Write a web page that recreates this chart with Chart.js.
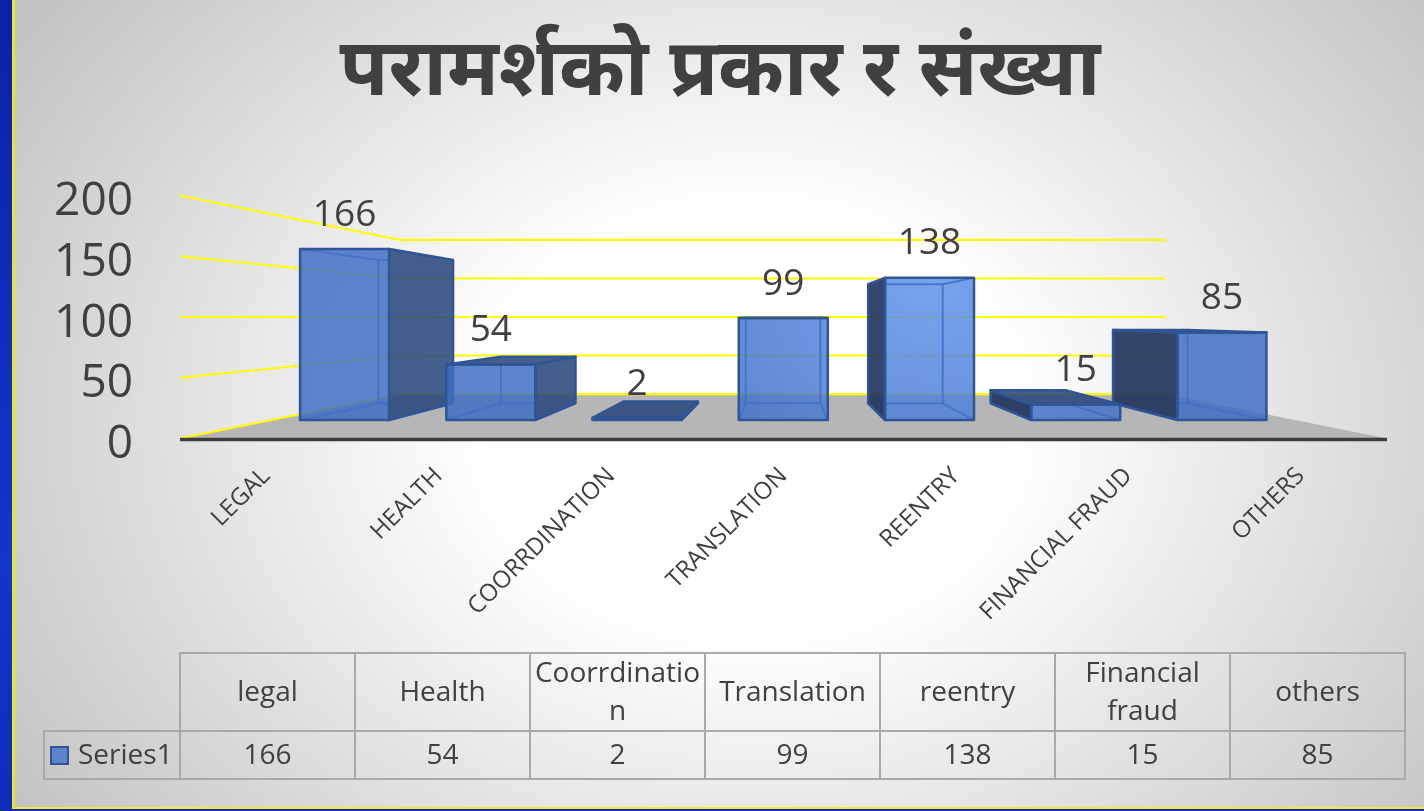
<!DOCTYPE html>
<html><head><meta charset="utf-8">
<style>
html,body{margin:0;padding:0;width:1424px;height:811px;overflow:hidden;background:linear-gradient(180deg,#0b21a6,#1136cc 70%,#0e2cb8);}
#panel{position:absolute;left:12px;top:0;width:1412px;height:809px;box-sizing:border-box;border-left:3px solid #e8e62a;border-bottom:2px solid #f2ee20;
background:radial-gradient(ellipse 880px 700px at 735px 420px,#ffffff 30%,#c3c3c3 100%);}
#chart{position:absolute;left:0;top:0;}
table{position:absolute;left:43px;top:652px;border-collapse:collapse;table-layout:fixed;width:1361px;font-family:"Open Sans",sans-serif;font-size:28px;color:#404040;}
td{border:2px solid #a9a9a9;text-align:center;padding:0;line-height:38px;overflow-wrap:anywhere;box-sizing:border-box;}
td span.t{position:relative;top:-2px;}
tr.h{height:77px}tr.d{height:48px}
td.blank{border-top:none;border-left:none;}
td.key{white-space:nowrap;text-align:left;padding-left:5px;}
.sw{display:inline-block;width:15px;height:15px;background:#5b84cc;border:2px solid #2f5597;margin-right:9px;vertical-align:-1px;}
</style>
<script src="https://cdn.jsdelivr.net/npm/chart.js@4"></script>
</head><body>
<div id="panel"></div>
<canvas id="chart" width="1424" height="811"></canvas>
<table id="tbl"></table>
<script>
const chartTitle = "परामर्शको प्रकार र संख्या";
const axisLabels = ["LEGAL","HEALTH","COORRDINATION","TRANSLATION","REENTRY","FINANCIAL FRAUD","OTHERS"];
const tableLabels = ["legal","Health","Coorrdination","Translation","reentry","Financial fraud","others"];
const seriesName = "Series1";
const seriesValues = [166,54,2,99,138,15,85];
const yTicks = [0,50,100,150,200];

/* table */
const tbl=document.getElementById('tbl');
let html='<colgroup><col style="width:136px">'+tableLabels.map(()=>'<col style="width:175px">').join('')+'</colgroup>';
html+='<tr class="h"><td class="blank"></td>'+tableLabels.map(t=>'<td><span class="t">'+t+'</span></td>').join('')+'</tr>';
html+='<tr class="d"><td class="key"><span class="t"><span class="sw"></span>'+seriesName+'</span></td>'+seriesValues.map(v=>'<td><span class="t">'+v+'</span></td>').join('')+'</tr>';
tbl.innerHTML=html;

/* perspective view of the scales */
const VIEW={dy:-6.5,backWall:0.634,barFront:0.848,barBack:0.71};
function vp(chart){const a=chart.chartArea;const y=chart.scales.y;
  return {cx:a.left+(a.right-a.left)*0.4987,cy:y.getPixelForValue(100)+VIEW.dy};}
function P(chart,x,y,s){const c=vp(chart);return [c.cx+(x-c.cx)*s,c.cy+(y+VIEW.dy-c.cy)*s];}
function poly(ctx,pts,fill,stroke,lw){ctx.beginPath();pts.forEach((p,i)=>i?ctx.lineTo(p[0],p[1]):ctx.moveTo(p[0],p[1]));ctx.closePath();
  if(fill){ctx.fillStyle=fill;ctx.fill();}if(stroke){ctx.strokeStyle=stroke;ctx.lineWidth=lw;ctx.lineJoin='round';ctx.stroke();}}
function seg(ctx,a,b){ctx.beginPath();ctx.moveTo(a[0],a[1]);ctx.lineTo(b[0],b[1]);ctx.stroke();}

const scene={id:'scene',
 beforeDatasetsDraw(chart){
  const ctx=chart.ctx,a=chart.chartArea,ys=chart.scales.y,zero=ys.getPixelForValue(0);
  ctx.save();
  poly(ctx,[P(chart,a.left,zero,1),P(chart,a.right,zero,1),P(chart,a.right,zero,VIEW.backWall),P(chart,a.left,zero,VIEW.backWall)],'#b6b6b6');
  ctx.strokeStyle='#ffff00';ctx.lineWidth=2.2;
  yTicks.forEach(v=>{const y=ys.getPixelForValue(v);
    const p0=P(chart,a.left,y,1),p1=P(chart,a.left,y,VIEW.backWall),p2=P(chart,a.right,y,VIEW.backWall);
    ctx.beginPath();ctx.moveTo(p0[0],p0[1]);ctx.lineTo(p1[0],p1[1]);ctx.lineTo(p2[0],p2[1]);ctx.stroke();});
  ctx.restore();
 },
 afterDatasetsDraw(chart){
  const ctx=chart.ctx,a=chart.chartArea,ys=chart.scales.y,zero=ys.getPixelForValue(0),c=vp(chart);
  const meta=chart.getDatasetMeta(0);
  const order=meta.data.map((e,i)=>i).sort((i,j)=>Math.abs(meta.data[j].x-c.cx)-Math.abs(meta.data[i].x-c.cx));
  const sheen=ctx.createRadialGradient(c.cx+150,c.cy-40,10,c.cx+150,c.cy-40,260);
  sheen.addColorStop(0,'rgba(100,150,235,0.88)');sheen.addColorStop(1,'rgba(62,110,195,0.84)');
  ctx.save();
  order.forEach(i=>{const e=meta.data[i],l=e.x-e.width/2,r=e.x+e.width/2,t=e.y,b=e.base;
    const f=VIEW.barFront,k=VIEW.barBack;
    const FTL=P(chart,l,t,f),FTR=P(chart,r,t,f),FBL=P(chart,l,b,f),FBR=P(chart,r,b,f);
    const BTL=P(chart,l,t,k),BTR=P(chart,r,t,k),BBL=P(chart,l,b,k),BBR=P(chart,r,b,k);
    const centre=Math.abs(e.x-c.cx)<20;
    if(!centre){
      if(e.x<c.cx) poly(ctx,[FTR,BTR,BBR,FBR],'rgba(42,72,125,0.88)');
      else poly(ctx,[FTL,BTL,BBL,FBL],'rgba(30,50,92,0.9)');
    }
    if(BTL[1]<FTL[1]) poly(ctx,[FTL,FTR,BTR,BTL],'rgba(42,72,125,0.88)');
    poly(ctx,[FTL,FTR,FBR,FBL],sheen);
    /* edges behind the front face, seen through it */
    ctx.save();
    ctx.beginPath();ctx.rect(FTL[0],FTL[1],FTR[0]-FTL[0],FBL[1]-FTL[1]);ctx.clip();
    ctx.strokeStyle='rgba(66,112,200,0.85)';ctx.lineWidth=2;
    [[BTL,BTR],[BTR,BBR],[BBR,BBL],[BBL,BTL],[FTL,BTL],[FTR,BTR],[FBL,BBL],[FBR,BBR]].forEach(s=>seg(ctx,s[0],s[1]));
    ctx.restore();
    /* silhouette */
    if(!centre){
      const o=e.x<c.cx?[FTR,BTR,BBR,FBR]:[FTL,BTL,BBL,FBL];
      poly(ctx,o,null,'#2f5597',2.5);
    }
    if(BTL[1]<FTL[1]) poly(ctx,[FTL,FTR,BTR,BTL],null,'#2f5597',2.5);
    poly(ctx,[FTL,FTR,FBR,FBL],null,'#2f5597',2.5);
  });
  /* floor front edge */
  ctx.strokeStyle='#3d3d3d';ctx.lineWidth=3.5;
  const p0=P(chart,a.left,zero,1),p1=P(chart,a.right,zero,1);
  seg(ctx,[p0[0],p0[1]+1],[p1[0],p1[1]+1]);
  /* value labels */
  ctx.fillStyle='#404040';ctx.font='37px "Open Sans",sans-serif';ctx.textAlign='center';ctx.textBaseline='middle';
  meta.data.forEach((e,i)=>{const p=P(chart,e.x,e.y,VIEW.barFront);ctx.fillText(String(seriesValues[i]),p[0],p[1]-34);});
  ctx.restore();
 }};

new Chart(document.getElementById('chart'),{
 type:'bar',
 data:{labels:axisLabels,datasets:[{label:seriesName,data:seriesValues,backgroundColor:'rgba(0,0,0,0)',borderWidth:0,barPercentage:0.609,categoryPercentage:1}]},
 options:{responsive:false,animation:false,
  layout:{padding:{left:53,top:0,right:37,bottom:0}},
  plugins:{legend:{display:false},tooltip:{enabled:false},
   title:{display:true,text:chartTitle,color:'#404040',font:{family:'"Noto Sans Devanagari","Noto Sans","Lohit Devanagari",sans-serif',size:79.5,weight:'bold',lineHeight:1.2},padding:{top:32,bottom:74.6}}},
  scales:{
   x:{grid:{display:false},border:{display:false},
      afterFit(s){s.height=366;},
      ticks:{autoSkip:false,maxRotation:45,minRotation:45,padding:9,color:'#404040',font:{family:'"Open Sans",sans-serif',size:24}}},
   y:{min:0,max:200,grid:{display:false},border:{display:false},
      afterFit(s){s.width=127;},
      ticks:{stepSize:50,padding:39,color:'#404040',font:{family:'"Open Sans",sans-serif',size:46}}}
  }},
 plugins:[scene]
});
</script>
</body></html>
